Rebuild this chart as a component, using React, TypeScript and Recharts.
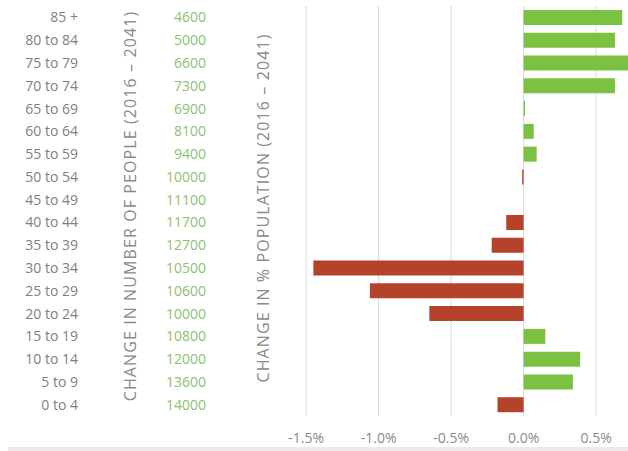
import { Bar, BarChart, CartesianGrid, Cell, XAxis, YAxis } from "recharts";

const ageGroups = [
	"85 +",
	"80 to 84",
	"75 to 79",
	"70 to 74",
	"65 to 69",
	"60 to 64",
	"55 to 59",
	"50 to 54",
	"45 to 49",
	"40 to 44",
	"35 to 39",
	"30 to 34",
	"25 to 29",
	"20 to 24",
	"15 to 19",
	"10 to 14",
	"5 to 9",
	"0 to 4",
];

const peopleChange = [
	4600, 5000, 6600, 7300, 6900, 8100, 9400, 10000, 11100, 11700, 12700, 10500,
	10600, 10000, 10800, 12000, 13600, 14000,
];

const percentChange = [
	0.68, 0.63, 0.72, 0.63, 0.01, 0.07, 0.09, -0.01, 0, -0.12, -0.22, -1.45,
	-1.06, -0.65, 0.15, 0.39, 0.34, -0.18,
];

const xTicks = [-1.5, -1.0, -0.5, 0, 0.5];

const GREEN = "#7cc242";
const RED = "#b5432b";
const FONT = "'Open Sans', sans-serif";

const data = ageGroups.map((age, i) => ({
	age,
	people: peopleChange[i],
	pct: percentChange[i],
}));

function AgeTick(props: any) {
	const { y, payload } = props;
	const i = ageGroups.indexOf(payload.value);
	return (
		<g fontFamily={FONT} fontSize={14}>
			<text x={78} y={y} dy={5} textAnchor="end" fill="#808080">
				{payload.value}
			</text>
			<text x={206} y={y} dy={5} textAnchor="end" fill="#89c173">
				{peopleChange[i]}
			</text>
		</g>
	);
}

const titleStyle: React.CSSProperties = {
	position: "absolute",
	transform: "translate(-50%, -50%) rotate(-90deg)",
	whiteSpace: "nowrap",
	fontFamily: FONT,
	fontSize: 16,
	color: "#8a8a8a",
	letterSpacing: 1.1,
};

export default function App() {
	return (
		<div style={{ position: "relative", width: 628, height: 451, background: "#fff" }}>
			<style>{"body{margin:0}"}</style>
			<BarChart
				width={628}
				height={451}
				data={data}
				layout="vertical"
				margin={{ top: 6, right: 0, bottom: 0, left: 0 }}
				barSize={15}
				style={{ fontFamily: FONT }}
			>
				<CartesianGrid horizontal={false} stroke="#d9d9d9" syncWithTicks />
				<XAxis
					type="number"
					domain={[-1.68, 0.72]}
					ticks={xTicks}
					interval={0}
					allowDataOverflow
					axisLine={false}
					tickLine={false}
					height={35}
					tickMargin={11}
					tick={{ fill: "#8a8a8a", fontSize: 14 }}
					tickFormatter={(v: number) => `${v.toFixed(1)}%`}
				/>
				<YAxis
					type="category"
					dataKey="age"
					width={280}
					interval={0}
					axisLine={false}
					tickLine={false}
					tick={<AgeTick />}
				/>
				<Bar dataKey="pct" isAnimationActive={false}>
					{data.map((d) => (
						<Cell key={d.age} fill={d.pct >= 0 ? GREEN : RED} />
					))}
				</Bar>
			</BarChart>
			<div style={{ ...titleStyle, left: 130, top: 206 }}>
				CHANGE IN NUMBER OF PEOPLE (2016 – 2041)
			</div>
			<div style={{ ...titleStyle, left: 263, top: 208 }}>
				CHANGE IN % POPULATION (2016 – 2041)
			</div>
			<div
				style={{
					position: "absolute",
					left: 8,
					top: 447,
					width: 620,
					height: 4,
					background: "#eee8e9",
				}}
			/>
		</div>
	);
}
